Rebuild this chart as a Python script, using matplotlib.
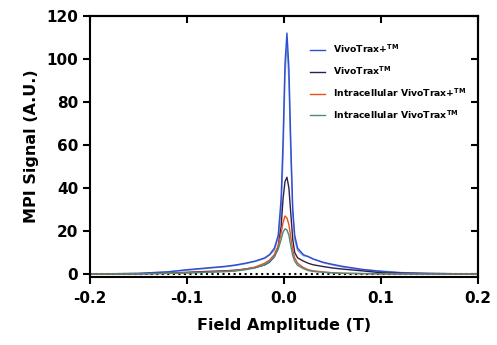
import numpy as np
import matplotlib.pyplot as plt

plt.rcParams['font.family'] = ['DejaVu Sans']
plt.rcParams['font.weight'] = 'bold'
plt.rcParams['mathtext.default'] = 'bf'

# field amplitude (T)
x = [-0.2, -0.15, -0.12, -0.1, -0.08, -0.06, -0.05, -0.04, -0.03, -0.02, -0.015,
     -0.01, -0.006, -0.003, -0.001, 0.001, 0.003, 0.005, 0.007, 0.009, 0.011,
     0.014, 0.02, 0.025, 0.03, 0.04, 0.05, 0.06, 0.08, 0.1, 0.12, 0.15, 0.2]

# MPI signal values
vt_plus = [0, 0.3, 1.0, 2.0, 2.8, 3.6, 4.2, 5.0, 6.0, 7.5, 9.0,
           12, 18, 35, 62, 98, 112, 96, 60, 30, 18,
           12, 9.0, 8.0, 7.0, 5.5, 4.5, 3.6, 2.2, 1.2, 0.6, 0.3, 0]
vt_plus_b = [0, 0.3, 1.0, 1.8, 2.6, 3.4, 4.0, 4.8, 5.8, 7.2, 8.8,
             11, 17, 30, 55, 92, 108, 90, 55, 28, 16,
             11, 8.5, 8.2, 7.0, 5.3, 4.2, 3.3, 2.0, 1.4, 0.7, 0.3, 0]
vt = [0, 0.1, 0.4, 0.8, 1.2, 1.5, 1.8, 2.3, 3.0, 4.2, 5.5,
      8.0, 13, 22, 35, 43, 45, 40, 28, 16, 10,
      7.5, 6.0, 5.0, 4.3, 3.5, 2.8, 2.3, 1.5, 0.6, 0.3, 0.1, 0]
ic_vt_plus = [0, 0.1, 0.3, 0.6, 0.9, 1.3, 1.6, 2.3, 3.2, 5.0, 6.5,
              9.0, 13, 19, 24, 27, 26, 23, 17, 11, 7.5,
              5.0, 3.0, 2.0, 1.5, 1.0, 0.6, 0.4, 0.2, 0.1, 0, 0, 0]
ic_vt = [0, 0.1, 0.3, 0.5, 0.8, 1.1, 1.4, 2.0, 2.8, 4.3, 5.8,
         8.0, 11.5, 16, 19.5, 21, 20.5, 18, 13, 8.5, 6.0,
         4.0, 2.5, 1.6, 1.2, 0.8, 0.5, 0.3, 0.2, 0.1, 0, 0, 0]

labels = ['VivoTrax+$^{TM}$', 'VivoTrax$^{TM}$',
          'Intracellular VivoTrax+$^{TM}$', 'Intracellular VivoTrax$^{TM}$']

fig = plt.figure(figsize=(4.97, 3.45), dpi=100)
ax = fig.add_axes([0.181, 0.197, 0.781, 0.757])

ax.axhline(0, color='black', linestyle=':', linewidth=1.5, zorder=1)
ax.plot(x, vt_plus_b, color='#8a98cc', linewidth=1.0)
ax.plot(x, vt_plus, color='#2a4fd6', linewidth=1.0, label=labels[0])
ax.plot(x, vt, color='#2e1f4f', linewidth=1.0, label=labels[1])
ax.plot(x, ic_vt_plus, color='#e8501a', linewidth=1.0, label=labels[2])
ax.plot(x, ic_vt, color='#4f8a7f', linewidth=1.0, label=labels[3])

ax.set_xlim(-0.2, 0.2)
ax.set_ylim(-1.4, 120)
ax.set_xticks([-0.2, -0.1, 0.0, 0.1, 0.2])
ax.set_xticklabels(['-0.2', '-0.1', '0.0', '0.1', '0.2'])
ax.set_yticks([0, 20, 40, 60, 80, 100, 120])

for s in ax.spines.values():
    s.set_linewidth(1.5)
ax.tick_params(axis='both', which='both', labelsize=11, width=1.5, length=5,
               direction='out', top=False, right=False)
ax.tick_params(axis='x', pad=5)
sec_y = ax.secondary_yaxis('right')
sec_y.set_yticks([0, 20, 40, 60, 80, 100, 120])
sec_y.tick_params(direction='in', width=1.5, length=5, labelright=False)
sec_x = ax.secondary_xaxis('top')
sec_x.set_xticks([-0.2, -0.1, 0.0, 0.1, 0.2])
sec_x.tick_params(direction='in', width=1.5, length=5, labeltop=False)
for s in list(sec_y.spines.values()) + list(sec_x.spines.values()):
    s.set_linewidth(1.5)

ax.set_xlabel('Field Amplitude (T)', fontsize=11.5, fontweight='bold', labelpad=9)
ax.set_ylabel('MPI Signal (A.U.)', fontsize=11.5, fontweight='bold', labelpad=5)

leg = ax.legend(loc='upper left', bbox_to_anchor=(0.545, 0.93), frameon=False,
                fontsize=6.7, handlelength=1.6, labelspacing=1.0,
                handletextpad=0.9)

fig.savefig('out.png', dpi=100)
